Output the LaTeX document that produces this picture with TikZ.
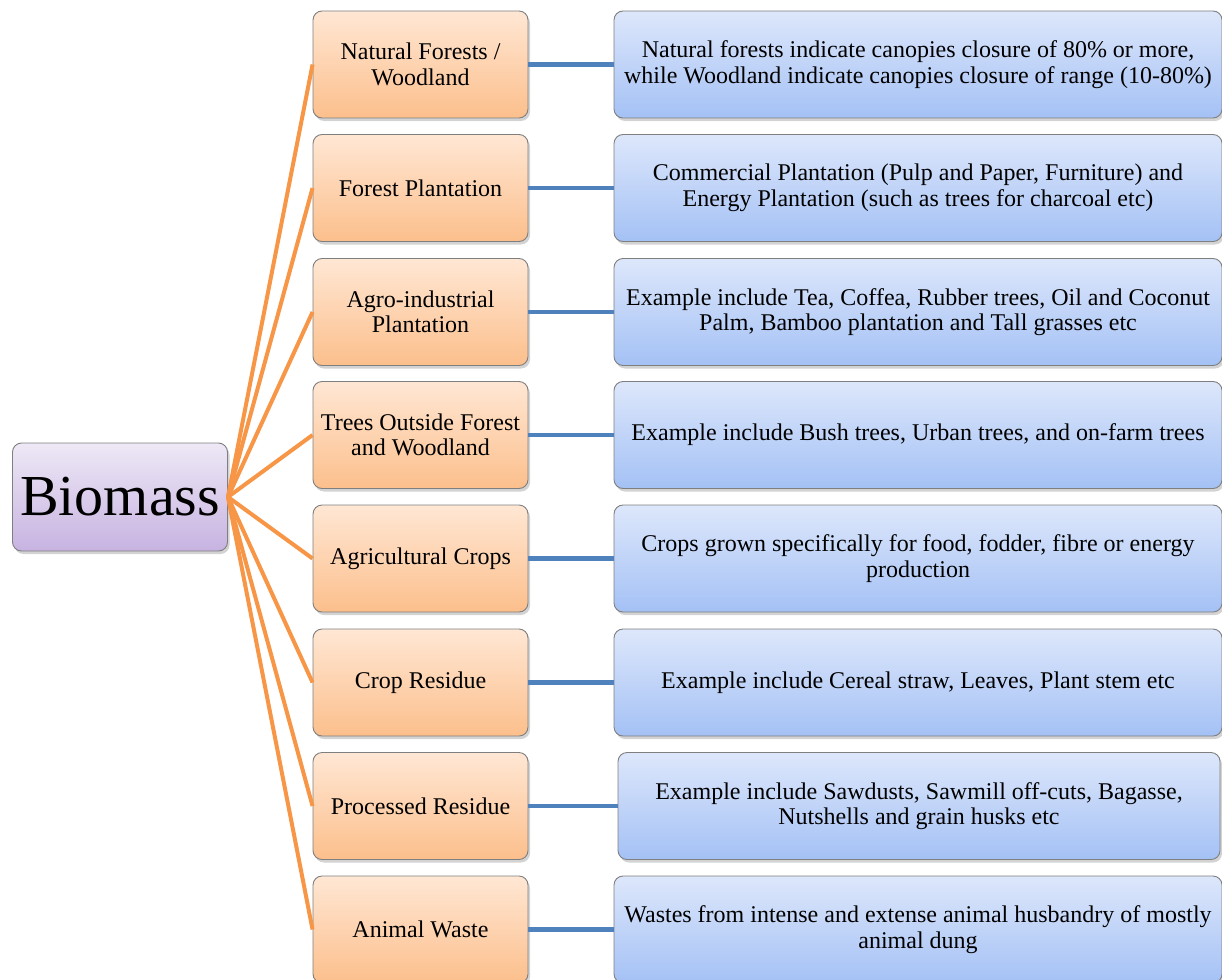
\documentclass[tikz,border=0pt]{standalone}
\usepackage{fontspec}
\setmainfont{Liberation Serif}
\usetikzlibrary{shadows}
\definecolor{orangetop}{HTML}{FFE7D4}
\definecolor{orangebot}{HTML}{FCBF8C}
\definecolor{bluetop}{HTML}{DDE7FB}
\definecolor{bluebot}{HTML}{A4C1F5}
\definecolor{purptop}{HTML}{EEE8F6}
\definecolor{purpbot}{HTML}{C7B3E1}
\definecolor{boxline}{HTML}{7F7F7F}
\definecolor{orangeline}{HTML}{F79646}
\definecolor{blueline}{HTML}{4F81BD}
\begin{document}
\begin{tikzpicture}[x=1pt, y=-1pt,
  box/.style={rectangle, rounded corners=9pt, draw=boxline, line width=0.9pt,
              drop shadow={shadow xshift=2pt, shadow yshift=-3pt, opacity=0.35},
              align=center, inner sep=2pt,
              font=\fontsize{24}{25.5}\selectfont},
  cat/.style={box, top color=orangetop, bottom color=orangebot,
              minimum width=215pt, minimum height=107pt},
  info/.style={box, top color=bluetop, bottom color=bluebot,
               minimum width=608pt, minimum height=107pt},
  root/.style={box, top color=purptop, bottom color=purpbot,
               minimum width=215pt, minimum height=108pt,
               font=\fontsize{58}{62}\selectfont},
  branch/.style={draw=orangeline, line width=4pt},
  link/.style={draw=blueline, line width=4.5pt}
]
\useasboundingbox (0,0) rectangle (1222,979);
\clip (0,0) rectangle (1222,979);

\node[root] (bio) at (120,497) {Biomass};

\node[cat] (nf) at (420.5,64.5) {Natural Forests /\\Woodland};
\node[cat] (fp) at (420.5,188) {Forest Plantation};
\node[cat] (ai) at (420.5,312) {Agro-industrial\\Plantation};
\node[cat] (to) at (420.5,435) {Trees Outside Forest\\and Woodland};
\node[cat] (ac) at (420.5,558.5) {Agricultural Crops};
\node[cat] (cr) at (420.5,682.5) {Crop Residue};
\node[cat] (pr) at (420.5,806) {Processed Residue};
\node[cat] (aw) at (420.5,929.5) {Animal Waste};

\node[info] (nfi) at (918,64.5) {Natural forests indicate canopies closure of 80\% or more,\\while Woodland indicate canopies closure of range (10-80\%)};
\node[info] (fpi) at (918,188) {Commercial Plantation (Pulp and Paper, Furniture) and\\Energy Plantation (such as trees for charcoal etc)};
\node[info] (aii) at (918,312) {Example include Tea, Coffea, Rubber trees, Oil and Coconut\\Palm, Bamboo plantation and Tall grasses etc};
\node[info] (toi) at (918,435) {Example include Bush trees, Urban trees, and on-farm trees};
\node[info] (aci) at (918,558.5) {Crops grown specifically for food, fodder, fibre or energy\\production};
\node[info] (cri) at (918,682.5) {Example include Cereal straw, Leaves, Plant stem etc};
\node[info, minimum width=602pt] (pri) at (919,806) {Example include Sawdusts, Sawmill off-cuts, Bagasse,\\Nutshells and grain husks etc};
\node[info] (awi) at (918,929.5) {Wastes from intense and extense animal husbandry of mostly\\animal dung};

% branches from the root
\draw[branch] (bio.east) -- (nf.west);
\draw[branch] (bio.east) -- (fp.west);
\draw[branch] (bio.east) -- (ai.west);
\draw[branch] (bio.east) -- (to.west);
\draw[branch] (bio.east) -- (ac.west);
\draw[branch] (bio.east) -- (cr.west);
\draw[branch] (bio.east) -- (pr.west);
\draw[branch] (bio.east) -- (aw.west);

% links to descriptions
\draw[link] (nf.east) -- (nfi.west);
\draw[link] (fp.east) -- (fpi.west);
\draw[link] (ai.east) -- (aii.west);
\draw[link] (to.east) -- (toi.west);
\draw[link] (ac.east) -- (aci.west);
\draw[link] (cr.east) -- (cri.west);
\draw[link] (pr.east) -- (pri.west);
\draw[link] (aw.east) -- (awi.west);
\end{tikzpicture}
\end{document}
